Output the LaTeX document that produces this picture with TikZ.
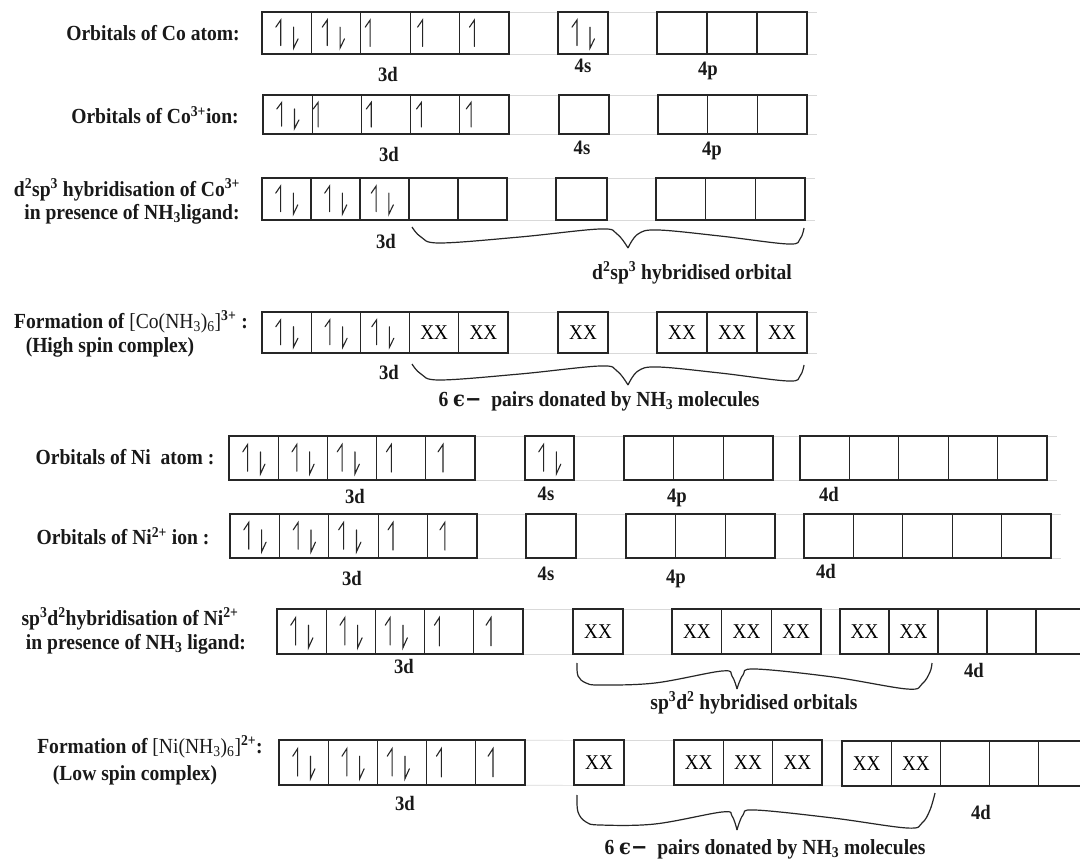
\documentclass[tikz,border=0pt]{standalone}
\usepackage{fontspec}
\setmainfont{Liberation Serif}[FakeStretch=0.91]
\newfontfamily\dvs{DejaVu Serif}[FakeStretch=0.91]
\usetikzlibrary{calc,backgrounds}
\tikzset{
  orb/.style={draw=black!85, line width=1.3pt, inner sep=0pt, outer sep=0pt},
  spin/.style={line width=1.1pt, draw=black!85, line cap=round},
  lbl/.style={font=\bfseries\fontsize{21.5}{24}\selectfont, inner sep=0pt, text=black!90},
  sublbl/.style={font=\bfseries\fontsize{20.5}{23}\selectfont, inner sep=0pt, text=black!90},
  xxt/.style={font=\fontsize{21}{23}\selectfont, inner sep=0pt, text=black},
  brace/.style={line width=1.2pt, draw=black!85, line join=round},
  faint/.style={draw=gray!30, line width=0.7pt},
}
% row of boxes: prefix, x0, ytop, x1, ybot, n
\newcommand\orbrow[6]{%
  \pgfmathsetmacro\bw{(#4-#2)/#6}%
  \pgfmathsetmacro\bh{#5-#3}%
  \foreach \i in {1,...,#6}{%
    \node[orb,anchor=north west,minimum width=\bw pt,minimum height=\bh pt] (#1\i) at ({#2+(\i-1)*\bw},#3) {};}%
}
\newcommand\pr[2][0.38]{%
  \begin{scope}[shift={(#2.north west)},x=\bw pt,y=-\bh pt]
    \draw[spin] (#1,0.8) -- (#1,0.19) -- ({#1-0.1},0.36);
    \draw[spin] ({#1+0.26},0.36) -- ({#1+0.26},0.86) -- ({#1+0.35},0.64);
  \end{scope}}
\newcommand\up[2][0.25]{%
  \begin{scope}[shift={(#2.north west)},x=\bw pt,y=-\bh pt]
    \draw[spin] (#1,0.82) -- (#1,0.19) -- ({#1-0.1},0.36);
  \end{scope}}
\newcommand\xx[1]{\node[xxt] (#1x) at (#1) {XX};}
\newcommand\sps[1]{\textsuperscript{#1}}
\newcommand\sbs[1]{\textsubscript{#1}}

\begin{document}
\begin{tikzpicture}[x=1pt,y=-1pt]
\begin{scope}[on background layer]
  \fill[white] (0,0) rectangle (1080,861);
\end{scope}
\useasboundingbox (0,0) rectangle (1080,861);

% ---------- Row A : Co atom ----------
\node[lbl] (la) at (153,33) {Orbitals of Co atom:};
\orbrow{Ad}{262}{12}{509}{54}{5}
\pr{Ad1} \pr[0.32]{Ad2} \up[0.19]{Ad3} \up[0.25]{Ad4} \up[0.3]{Ad5}
\orbrow{As}{558}{12}{608}{54}{1}
\pr[0.38]{As1}
\orbrow{Ap}{657}{12}{807}{54}{3}
\node[sublbl] (lad) at (388,74) {3d};
\node[sublbl] (las) at (583,66) {4s};
\node[sublbl] (lap) at (708,71) {4p};

% ---------- Row B : Co3+ ----------
\node[lbl] (lb) at (155,115) {Orbitals of Co\sps{3+}ion:};
\orbrow{Bd}{263}{95}{509}{134}{5}
\pr{Bd1} \up[0.12]{Bd2} \up[0.2]{Bd3} \up[0.22]{Bd4} \up[0.23]{Bd5}
\orbrow{Bs}{559}{95}{609}{134}{1}
\orbrow{Bp}{658}{95}{807}{134}{3}
\node[sublbl] (lbd) at (389,154) {3d};
\node[sublbl] (lbs) at (582,148) {4s};
\node[sublbl] (lbp) at (712,151) {4p};

% ---------- Row C : d2sp3 ----------
\node[lbl] (lc1) at (127,190) {d\sps{2}sp\sps{3} hybridisation of Co\sps{3+}};
\node[lbl] (lc2) at (132,214) {in presence of NH\sbs{3}ligand:};
\orbrow{Cd}{262}{178}{507}{220}{5}
\pr{Cd1} \pr{Cd2} \pr[0.33]{Cd3}
\orbrow{Cs}{556}{178}{607}{220}{1}
\orbrow{Cp}{656}{178}{805}{220}{3}
\node[sublbl] (lcd) at (386,241) {3d};
\draw[brace] plot[smooth,tension=0.6] coordinates {(412,227) (421,237) (440,243) (520,237) (600,229) (617,234) (628,248)};
\draw[brace] plot[smooth,tension=0.6] coordinates {(628,248) (638,234) (658,230) (720,236) (788,244) (800,239) (804,228)};
\node[lbl] (lch) at (692,273) {d\sps{2}sp\sps{3} hybridised orbital};

% ---------- Row D : [Co(NH3)6]3+ ----------
\node[lbl] (ld1) at (131,322) {Formation of {\mdseries[Co(NH\sbs{3})\sbs{6}]}\sps{3+} :};
\node[lbl] (ld2) at (110,347) {(High spin complex)};
\orbrow{Dd}{262}{312}{508}{353}{5}
\pr{Dd1} \pr{Dd2} \pr[0.33]{Dd3} \xx{Dd4} \xx{Dd5}
\orbrow{Ds}{558}{312}{608}{353}{1}
\xx{Ds1}
\orbrow{Dp}{657}{312}{807}{353}{3}
\xx{Dp1} \xx{Dp2} \xx{Dp3}
\node[sublbl] (ldd) at (389,372) {3d};
\draw[brace] plot[smooth,tension=0.6] coordinates {(412,364) (421,374) (440,380) (520,374) (600,366) (617,371) (628,385)};
\draw[brace] plot[smooth,tension=0.6] coordinates {(628,385) (638,371) (658,367) (720,373) (788,381) (800,376) (804,365)};
\node[lbl] (ldh) at (599,401) {6 {\dvs ϵ−}\ \ pairs donated by NH\sbs{3} molecules};

% ---------- Row E : Ni atom ----------
\node[lbl] (le) at (125,457) {Orbitals of Ni\ \ atom :};
\orbrow{Ed}{229}{436}{475}{480}{5}
\pr{Ed1} \pr{Ed2} \pr[0.3]{Ed3} \up[0.3]{Ed4} \up[0.35]{Ed5}
\orbrow{Es}{525}{436}{574}{480}{1}
\pr{Es1}
\orbrow{Ep}{624}{436}{773}{480}{3}
\orbrow{Ef}{800}{436}{1047}{480}{5}
\node[sublbl] (led) at (355,496) {3d};
\node[sublbl] (les) at (546,494) {4s};
\node[sublbl] (lep) at (677,498) {4p};
\node[sublbl] (lef) at (829,494) {4d};

% ---------- Row F : Ni2+ ----------
\node[lbl] (lf) at (123,536) {Orbitals of Ni\sps{2+} ion :};
\orbrow{Fd}{230}{514}{477}{558}{5}
\pr{Fd1} \pr{Fd2} \pr[0.3]{Fd3} \up[0.3]{Fd4} \up[0.35]{Fd5}
\orbrow{Fs}{526}{514}{576}{558}{1}
\orbrow{Fp}{626}{514}{775}{558}{3}
\orbrow{Ff}{804}{514}{1051}{558}{5}
\node[sublbl] (lfd) at (352,578) {3d};
\node[sublbl] (lfs) at (546,574) {4s};
\node[sublbl] (lfp) at (676,579) {4p};
\node[sublbl] (lff) at (826,571) {4d};

% ---------- Row G : sp3d2 ----------
\node[lbl] (lg1) at (130,619) {sp\sps{3}d\sps{2}hybridisation of Ni\sps{2+}};
\node[lbl] (lg2) at (136,644) {in presence of NH\sbs{3} ligand:};
\orbrow{Gd}{277}{609}{523}{654}{5}
\pr{Gd1} \pr{Gd2} \pr[0.3]{Gd3} \up[0.3]{Gd4} \up[0.35]{Gd5}
\orbrow{Gs}{573}{609}{623}{654}{1}
\xx{Gs1}
\orbrow{Gp}{672}{609}{821}{654}{3}
\xx{Gp1} \xx{Gp2} \xx{Gp3}
\orbrow{Gf}{840}{609}{1085}{654}{5}
\xx{Gf1} \xx{Gf2}
\node[sublbl] (lgd) at (404,666) {3d};
\node[sublbl] (lgf) at (974,670) {4d};
\draw[brace] plot[smooth,tension=0.6] coordinates {(577,663) (578,676) (586,683) (600,685) (655,683) (722,671) (732,676) (737,689)};
\draw[brace] plot[smooth,tension=0.6] coordinates {(737,689) (743,675) (755,669) (833,677) (907,689) (922,684) (930,672) (932,663)};
\node[lbl] (lgh) at (754,703) {sp\sps{3}d\sps{2} hybridised orbitals};

% ---------- Row H : [Ni(NH3)6]2+ ----------
\node[lbl] (lh1) at (150,747) {Formation of {\mdseries[Ni(NH\sbs{3})\sbs{6}]}\sps{2+}:};
\node[lbl] (lh2) at (135,775) {(Low spin complex)};
\orbrow{Hd}{279}{740}{525}{785}{5}
\pr{Hd1} \pr{Hd2} \pr[0.3]{Hd3} \up[0.3]{Hd4} \up[0.35]{Hd5}
\orbrow{Hs}{574}{740}{624}{785}{1}
\xx{Hs1}
\orbrow{Hp}{674}{740}{822}{785}{3}
\xx{Hp1} \xx{Hp2} \xx{Hp3}
\orbrow{Hf}{842}{741}{1088}{786}{5}
\xx{Hf1} \xx{Hf2}
\node[sublbl] (lhd) at (405,803) {3d};
\node[sublbl] (lhf) at (981,812) {4d};
\draw[brace] plot[smooth,tension=0.6] coordinates {(577,795) (578,812) (586,822) (600,825) (655,824) (722,812) (732,816) (737,830)};
\draw[brace] plot[smooth,tension=0.6] coordinates {(737,830) (743,815) (755,810) (833,818) (907,828) (922,823) (930,810) (935,793)};
\node[lbl] (lhh) at (765,849) {6 {\dvs ϵ−}\ \ pairs donated by NH\sbs{3} molecules};

% ---------- faint table rules ----------
\begin{scope}[on background layer]
  \foreach \a/\b in {Ad1/Ap3,Bd1/Bp3,Cd1/Cp3,Dd1/Dp3,Ed1/Ef5,Fd1/Ff5,Gd1/Gf5,Hd1/Hf5}{
    \draw[faint] (\a.north west) -- ([xshift=10pt]\b.north east);
    \draw[faint] (\a.south west) -- ([xshift=10pt]\b.south east);
  }
\end{scope}
\end{tikzpicture}
\end{document}
